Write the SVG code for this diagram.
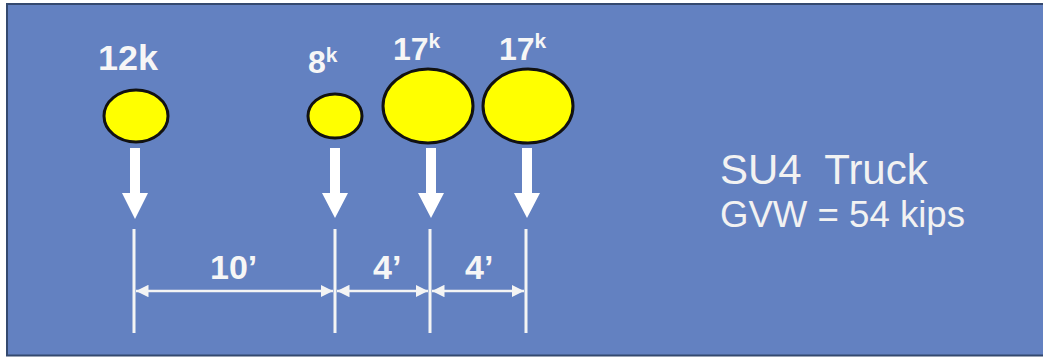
<svg xmlns="http://www.w3.org/2000/svg" width="1043" height="358" viewBox="0 0 1043 358">
  <defs>
    <style>
      .lbl { font-family: "Liberation Sans", Arial, sans-serif; font-weight: bold; fill: #f6f6f6; }
      .info { font-family: "Liberation Sans", Arial, sans-serif; fill: #f2f2f2; white-space: pre; }
      .axle { fill: #ffff00; stroke: #111111; stroke-width: 3; }
      .load { fill: #ffffff; }
      .ext { stroke: #f4f4f4; stroke-width: 3; fill: none; }
      .dim { stroke: #f4f4f4; stroke-width: 2.5; fill: none; marker-start: url(#ah); marker-end: url(#ah); }
    </style>
    <marker id="ah" viewBox="0 0 10 10" refX="10" refY="5" markerWidth="5" markerHeight="5" orient="auto-start-reverse" markerUnits="strokeWidth">
      <path d="M0,0 L10,5 L0,10 Z" fill="#f4f4f4"/>
    </marker>
  </defs>
  <rect x="0" y="0" width="1043" height="358" fill="#ffffff"/>
  <rect x="7" y="4" width="1050" height="351.5" fill="#6381c1" stroke="#34496f" stroke-width="2"/>

  <g id="axle-12k">
    <ellipse class="axle" cx="136" cy="116" rx="32" ry="26"/>
    <text class="lbl" x="98" y="70" font-size="35" textLength="60" lengthAdjust="spacingAndGlyphs">12k</text>
    <path class="load" d="M130,148 H140 V193 H148 L135,219 L122,193 H130 Z"/>
  </g>
  <g id="axle-8k">
    <ellipse class="axle" cx="335" cy="116" rx="27" ry="22"/>
    <text class="lbl" x="308" y="73" font-size="32">8<tspan font-size="21" dy="-11">k</tspan></text>
    <path class="load" d="M330,148 H340 V193 H348 L335,218 L322,193 H330 Z"/>
  </g>
  <g id="axle-17k-1">
    <ellipse class="axle" cx="428" cy="106" rx="45" ry="37"/>
    <text class="lbl" x="393" y="60" font-size="32">17<tspan font-size="21" dy="-12">k</tspan></text>
    <path class="load" d="M426,148 H436 V193 H444 L431,218 L418,193 H426 Z"/>
  </g>
  <g id="axle-17k-2">
    <ellipse class="axle" cx="528" cy="106" rx="45" ry="37"/>
    <text class="lbl" x="499" y="60" font-size="32">17<tspan font-size="21" dy="-12">k</tspan></text>
    <path class="load" d="M522,148 H532 V193 H540 L527,218 L514,193 H522 Z"/>
  </g>

  <g id="dimensions">
    <line class="ext" x1="134" y1="229" x2="134" y2="333"/>
    <line class="ext" x1="335" y1="229" x2="335" y2="333"/>
    <line class="ext" x1="430" y1="229" x2="430" y2="333"/>
    <line class="ext" x1="526" y1="229" x2="526" y2="333"/>
    <line class="dim" x1="136" y1="291" x2="333" y2="291"/>
    <line class="dim" x1="337" y1="291" x2="428" y2="291"/>
    <line class="dim" x1="432" y1="291" x2="524" y2="291"/>
    <text class="lbl" x="210" y="279" font-size="34">10’</text>
    <text class="lbl" x="373" y="279" font-size="34">4’</text>
    <text class="lbl" x="465" y="279" font-size="34">4’</text>
  </g>

  <g id="title">
    <text class="info" x="720" y="184" font-size="42">SU4  Truck</text>
    <text class="info" x="720" y="227" font-size="36" textLength="245" lengthAdjust="spacingAndGlyphs">GVW = 54 kips</text>
  </g>
</svg>
